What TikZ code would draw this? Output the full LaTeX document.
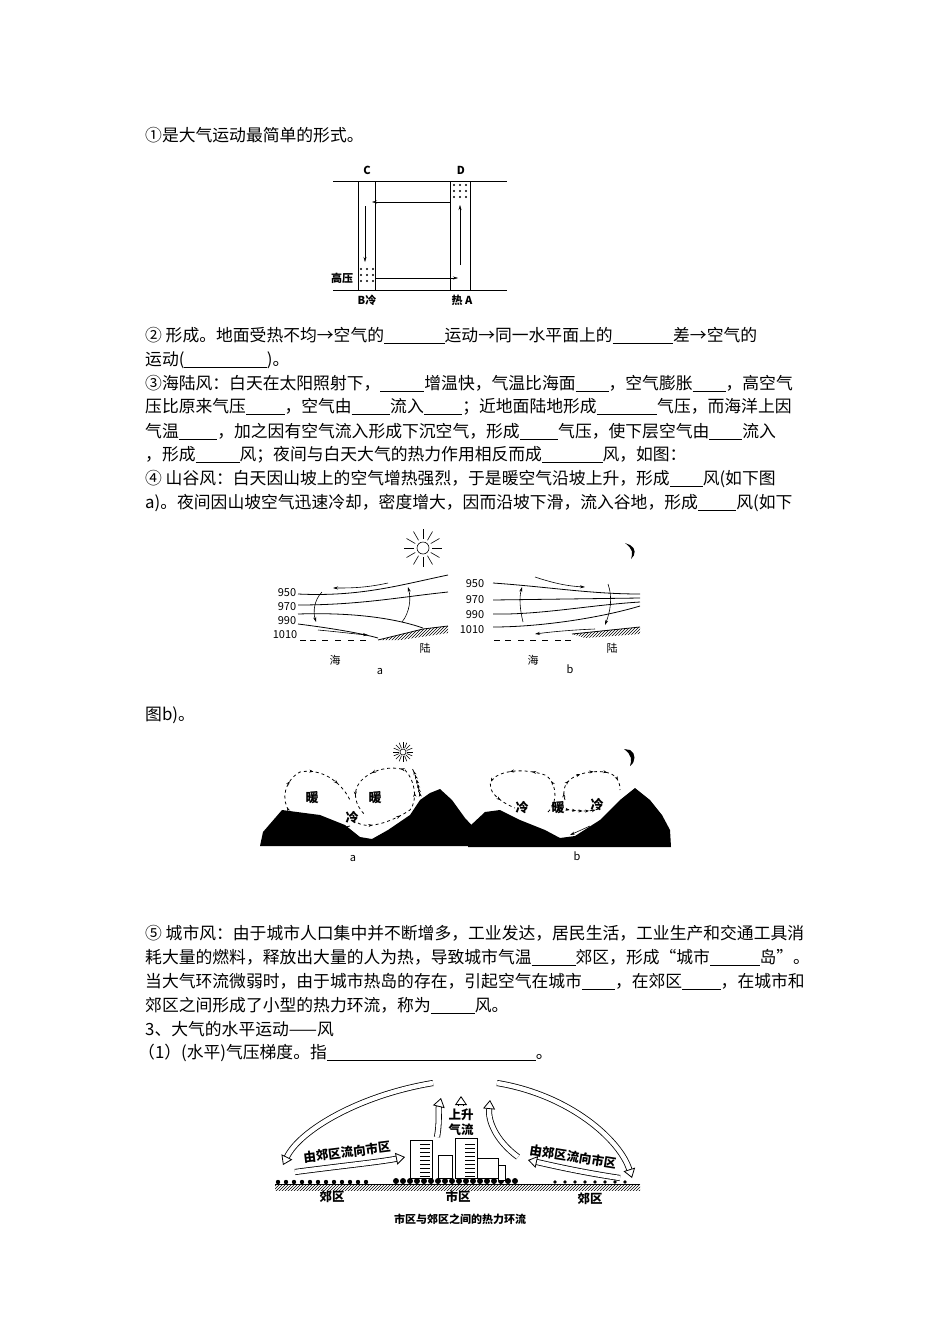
\documentclass[tikz,border=0pt]{standalone}
\usepackage{fontspec}
\setmainfont{Noto Sans CJK SC}
\usetikzlibrary{arrows.meta,decorations.markings,patterns,calc}
\newcommand{\blank}[1]{\rule[-2pt]{1.1\dimexpr #1pt\relax}{0.6pt}}
\tikzset{
 txt/.style={anchor=west,inner sep=0,font=\fontsize{16.8}{16.8}\selectfont},
 lab/.style={inner sep=0,font=\fontsize{11}{11}\selectfont},
 labb/.style={inner sep=0,font=\fontsize{11}{11}\selectfont\bfseries},
 labu/.style={inner sep=0,font=\fontsize{12.5}{12.5}\selectfont\bfseries},
 arr/.style={-{Stealth[length=5pt,width=3pt]},line width=0.6pt},
 iso/.style={line width=0.8pt},
 loop/.style={dashed,line width=0.8pt,postaction={decorate},decoration={markings,mark=between positions 0.08 and 0.98 step 0.16 with {\arrow{Stealth[length=4pt,width=3pt]}}}},
 hollow/.style={double=white,double distance=4.5pt,line width=0.8pt},
 htip/.style={-{Triangle[open,length=9pt,width=12pt]}},
}
\begin{document}
\begin{tikzpicture}[x=1pt,y=-1pt]
\useasboundingbox[fill=white] (0,0) rectangle (950,1344);
% texts
\node[txt] (t1) at (145,135) {①是大气运动最简单的形式。};
\node[txt] (t2) at (145,335) {② 形成。地面受热不均→空气的\blank{55}运动→同一水平面上的\blank{55}差→空气的};
\node[txt] (t3) at (145,360) {运动(\blank{75})。};
\node[txt] (t4) at (145,383) {③海陆风：白天在太阳照射下，\blank{40}增温快，气温比海面\blank{30}，空气膨胀\blank{30}，高空气};
\node[txt] (t5) at (145,407) {压比原来气压\blank{35}，空气由\blank{35}流入\blank{35}；近地面陆地形成\blank{55}气压，而海洋上因};
\node[txt] (t6) at (145,431) {气温\blank{35}，加之因有空气流入形成下沉空气，形成\blank{35}气压，使下层空气由\blank{30}流入};
\node[txt] (t7) at (145,455) {，形成\blank{40}风；夜间与白天大气的热力作用相反而成\blank{55}风，如图：};
\node[txt] (t8) at (145,479) {④ 山谷风：白天因山坡上的空气增热强烈，于是暖空气沿坡上升，形成\blank{30}风(如下图};
\node[txt] (t9) at (145,503) {a)。夜间因山坡空气迅速冷却，密度增大，因而沿坡下滑，流入谷地，形成\blank{35}风(如下};
\node[txt] (t10) at (145,715) {图b)。};
\node[txt] (t11) at (145,933) {⑤ 城市风：由于城市人口集中并不断增多，工业发达，居民生活，工业生产和交通工具消};
\node[txt] (t12) at (145,957) {耗大量的燃料，释放出大量的人为热，导致城市气温\blank{40}郊区，形成“城市\blank{45}岛”。};
\node[txt] (t13) at (145,981) {当大气环流微弱时，由于城市热岛的存在，引起空气在城市\blank{30}，在郊区\blank{35}，在城市和};
\node[txt] (t14) at (145,1005) {郊区之间形成了小型的热力环流，称为\blank{40}风。};
\node[txt] (t15) at (145,1029) {3、大气的水平运动——风};
\node[txt] (t16) at (138,1053) {（1）(水平)气压梯度。指\blank{190}。};

% ===== top diagram
\draw[line width=0.6pt] (333,181) -- (507,181) (333,290) -- (507,290);
\draw[line width=0.6pt] (358,181) -- (358,290) (375,181) -- (375,290) (450,181) -- (450,290) (470,181) -- (470,290);
\node[labb] (c) at (367,170) {C};
\node[labb] (d) at (461,170) {D};
\node[labb] (gy) at (342,278) {高压};
\node[labb] (bl) at (367,300) {B冷};
\node[labb] (ra) at (462,300) {热 A};
\foreach \x in {454,460,466} \foreach \y in {185,191,197} \fill (\x,\y) circle (1.1);
\foreach \x in {361,367,373} \foreach \y in {269,275,281} \fill (\x,\y) circle (1.1);
\coordinate (p1) at (450,202); \coordinate (p2) at (372,202);
\coordinate (p3) at (365,206); \coordinate (p4) at (365,262);
\coordinate (p5) at (375,278); \coordinate (p6) at (458,278);
\coordinate (p7) at (460,265); \coordinate (p8) at (460,205);
\draw[arr,line width=0.4pt] (p1) -- (p2);
\draw[arr,line width=0.4pt] (p3) -- (p4);
\draw[arr,line width=0.4pt] (p5) -- (p6);
\draw[arr,line width=0.4pt] (p7) -- (p8);

% ===== sea-land a
\node[lab] (a950) at (287,593) {950};
\node[lab] (a970) at (287,607) {970};
\node[lab] (a990) at (287,621) {990};
\node[lab] (a1010) at (285,635) {1010};
\draw[iso] (298,594) .. controls (360,597) and (400,585) .. (448,575);
\draw[iso] (298,605) .. controls (360,605) and (400,597) .. (448,592);
\draw[iso] (298,614) .. controls (360,612) and (400,620) .. (423,628);
\draw[iso] (298,624) .. controls (330,628) and (360,633) .. (378,638);
\draw[line width=0.8pt] (378,640) -- (423,629) -- (448,626);
\fill[pattern=north east lines] (380,640) -- (423,629) -- (448,626) -- (448,633) -- (400,640) -- cycle;
\foreach \x in {300,310,322,335,348,360} \draw[line width=0.8pt] (\x,640) -- (\x+6,640);
\draw[arr] (388,583) .. controls (365,588) and (350,588) .. (333,588);
\draw[arr] (322,592) .. controls (314,600) and (313,612) .. (316,622);
\draw[arr] (318,630) .. controls (340,632) and (355,634) .. (368,635);
\draw[arr] (402,622) .. controls (410,612) and (411,598) .. (408,587);
\node[circle,draw,line width=0.6pt,minimum size=12pt,inner sep=0] (sun1) at (423,548) {};
\foreach \a in {0,30,...,330} \draw[line width=0.6pt] ($(423,548)+(\a:9)$) -- ($(423,548)+(\a:19)$);
\node[lab] (hai1) at (335,660) {海};
\node[lab] (lu1) at (425,648) {陆};
\node[lab] (la) at (380,671) {a};

% ===== sea-land b
\node[lab] (b950) at (475,584) {950};
\node[lab] (b970) at (475,600) {970};
\node[lab] (b990) at (475,615) {990};
\node[lab] (b1010) at (472,630) {1010};
\draw[iso] (493,583) .. controls (550,587) and (590,594) .. (640,594);
\draw[iso] (493,600) -- (640,598);
\draw[iso] (493,614) .. controls (540,615) and (590,605) .. (640,602);
\draw[iso] (493,627) .. controls (540,627) and (600,618) .. (640,606);
\draw[line width=0.8pt] (572,634) -- (640,627);
\fill[pattern=north east lines] (572,634) -- (640,627) -- (640,634) -- (585,638) -- cycle;
\foreach \x in {494,505,518,530,542,555,565} \draw[line width=0.8pt] (\x,640) -- (\x+6,640);
\draw[arr] (535,577) .. controls (550,582) and (565,586) .. (585,587);
\draw[arr] (608,584) .. controls (613,598) and (610,612) .. (605,625);
\draw[arr] (595,629) .. controls (570,630) and (550,632) .. (535,634);
\draw[arr] (523,622) .. controls (520,610) and (519,598) .. (522,587);
\fill (630,545) .. controls (636,548) and (636,555) .. (631,559) .. controls (633,553) and (633,549) .. (625,543) -- cycle;
\node[lab] (hai2) at (533,660) {海};
\node[lab] (lu2) at (612,648) {陆};
\node[lab] (lb) at (570,669) {b};

% ===== valley a
\fill (260,846) -- (263,832) -- (282,810) -- (297,812) -- (320,815) -- (345,825) -- (360,837) -- (372,839) -- (388,830) -- (410,815) -- (420,800) -- (430,793) -- (440,789) -- (452,800) -- (465,818) -- (478,832) -- (481,846) -- cycle;
\draw[loop] (350,826) .. controls (330,832) and (300,820) .. (290,812) .. controls (280,800) and (285,780) .. (300,772) .. controls (320,768) and (340,780) .. (350,800);
\draw[loop] (358,823) .. controls (370,830) and (395,820) .. (410,810) .. controls (418,800) and (415,780) .. (405,770) .. controls (390,765) and (370,770) .. (360,782) .. controls (352,792) and (355,805) .. (365,815);
\draw[loop] (420,795) .. controls (418,785) and (416,775) .. (412,768);
\node[circle,draw,line width=0.6pt,minimum size=6pt,inner sep=0] (sun2) at (403,752) {};
\foreach \a in {0,22.5,...,337.5} \draw[line width=0.6pt] ($(403,752)+(\a:4)$) -- ($(403,752)+(\a:10)$);
\node[labb,font=\fontsize{13}{13}\selectfont\bfseries] (nu1) at (312,798) {暖};
\node[labb,font=\fontsize{13}{13}\selectfont\bfseries] (nu2) at (375,798) {暖};
\node[labb,font=\fontsize{13}{13}\selectfont\bfseries] (le1) at (352,818) {冷};
\node[lab] (va) at (353,858) {a};

% ===== valley b
\fill (468,847) -- (470,826) -- (485,812) -- (500,810) -- (520,820) -- (545,830) -- (560,838) -- (575,836) -- (600,820) -- (620,800) -- (635,788) -- (650,800) -- (662,815) -- (670,830) -- (671,847) -- cycle;
\draw[loop] (548,812) .. controls (560,800) and (555,780) .. (545,775) .. controls (525,768) and (500,770) .. (492,780) .. controls (485,790) and (500,802) .. (515,808);
\draw[loop] (560,808) .. controls (575,812) and (595,812) .. (600,808);
\draw[loop] (565,800) .. controls (560,785) and (570,775) .. (590,772) .. controls (610,770) and (620,775) .. (620,790);
\draw[arr] (540,833) -- (555,836);
\draw[arr] (590,826) -- (570,835);
\fill (630,750) .. controls (636,753) and (636,762) .. (630,766) .. controls (632,760) and (632,755) .. (624,749) -- cycle;
\node[labb,font=\fontsize{13}{13}\selectfont\bfseries] (le2) at (522,808) {冷};
\node[labb,font=\fontsize{13}{13}\selectfont\bfseries] (nu3) at (558,808) {暖};
\node[labb,font=\fontsize{13}{13}\selectfont\bfseries] (le3) at (597,805) {冷};
\node[lab] (vb) at (577,856) {b};

% ===== urban
\fill[pattern=north east lines] (275,1184) rectangle (640,1190);
\draw[line width=0.8pt] (275,1184) -- (640,1184);
\foreach \x in {278,286,...,370} \fill (\x,1182) circle (2.2);
\foreach \x in {396,403,...,520} \fill (\x,1181) circle (3);
\foreach \x in {555,565,...,630} \fill (\x,1182) circle (1.8);
\draw[line width=0.7pt,fill=white] (410,1140) rectangle (432,1178);
\draw[line width=0.7pt,fill=white] (438,1155) rectangle (452,1178);
\draw[line width=0.7pt,fill=white] (455,1138) rectangle (477,1178);
\draw[line width=0.7pt,fill=white] (477,1158) rectangle (498,1178);
\draw[line width=0.7pt,fill=white] (498,1165) rectangle (505,1180);
\foreach \y in {1144,1148,...,1176} \draw[line width=0.3pt] (420,\y) -- (430,\y) (465,\y) -- (475,\y);
\coordinate (u1) at (433,1083); \coordinate (u2) at (283,1165);
\coordinate (u3) at (497,1083); \coordinate (u4) at (632,1178);
\draw[hollow,htip] (u1) .. controls (360,1095) and (300,1130) .. (u2);
\draw[hollow,htip] (u3) .. controls (570,1095) and (620,1140) .. (u4);
\draw[hollow,htip] (295,1172) .. controls (340,1166) and (380,1162) .. (405,1157);
\draw[hollow,htip] (620,1178) .. controls (580,1172) and (550,1165) .. (528,1160);
\draw[hollow,htip] (437,1137) .. controls (440,1120) and (438,1110) .. (441,1098);
\draw[hollow,htip] (461,1106) -- (461,1096);
\draw[hollow,htip] (518,1157) .. controls (495,1140) and (488,1120) .. (490,1100);
\node[labu,rotate=7] (f1) at (347,1152) {由郊区流向市区};
\node[labu,rotate=-9] (f2) at (573,1157) {由郊区流向市区};
\node[labu] (ss) at (461,1115) {上升};
\node[labu] (ql) at (461,1130) {气流};
\node[labu] (jq1) at (332,1197) {郊区};
\node[labu] (sq) at (458,1197) {市区};
\node[labu] (jq2) at (590,1199) {郊区};
\node[labb] (cap) at (460,1219) {市区与郊区之间的热力环流};
\end{tikzpicture}
\end{document}
